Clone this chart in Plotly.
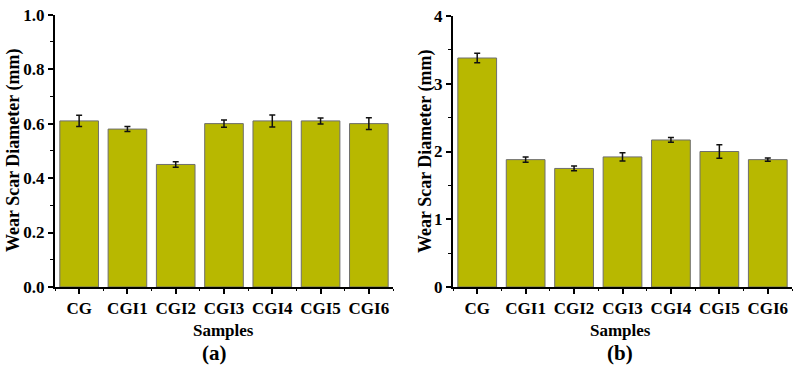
import plotly.graph_objects as go

samples = ["CG", "CGI1", "CGI2", "CGI3", "CGI4", "CGI5", "CGI6"]
wsd_a = [0.61, 0.58, 0.45, 0.60, 0.61, 0.61, 0.60]
err_a = [0.021, 0.009, 0.010, 0.013, 0.022, 0.011, 0.022]
wsd_b = [3.38, 1.88, 1.75, 1.92, 2.17, 2.00, 1.88]
err_b = [0.07, 0.04, 0.035, 0.06, 0.035, 0.10, 0.025]

FONT = "Liberation Serif"
BAR = "#b8b800"
xs = list(range(len(samples)))

fig = go.Figure()
for vals, errs, xa, ya in [(wsd_a, err_a, "x", "y"), (wsd_b, err_b, "x2", "y2")]:
    fig.add_trace(go.Bar(
        x=xs, y=vals, xaxis=xa, yaxis=ya, width=0.8,
        marker=dict(color=BAR, line=dict(color="#6e6e6e", width=1)),
        error_y=dict(type="data", array=errs, visible=True, color="#111111",
                     thickness=1.5, width=3),
        showlegend=False,
    ))

tickfont = dict(family=FONT, size=17, color="black", weight="bold")

def xaxis(domain, anchor):
    return dict(domain=domain, anchor=anchor, range=[-0.5, 6.5], automargin=False,
                tickvals=xs, ticktext=samples, showline=True, linecolor="black",
                linewidth=2, ticks="outside", ticklen=5, tickwidth=1.5,
                tickcolor="black", showgrid=False, zeroline=False,
                tickfont=tickfont,
                minor=dict(ticks="outside", ticklen=2, tickwidth=1,
                           tick0=0.5, dtick=1, tickcolor="black"))

def yaxis(domain, anchor, rng, dtick, minor_dt, fmt):
    return dict(domain=domain, anchor=anchor, range=rng, dtick=dtick, automargin=False,
                tickformat=fmt, showline=True, linecolor="black", linewidth=2,
                ticks="outside", ticklen=5, tickwidth=1.5, tickcolor="black",
                showgrid=False, zeroline=False, tickfont=tickfont,
                minor=dict(ticks="outside", ticklen=3, tickwidth=1,
                           dtick=minor_dt, tickcolor="black"))

fig.update_layout(
    width=796, height=377,
    margin=dict(l=0, r=0, t=0, b=0, autoexpand=False),
    paper_bgcolor="white", plot_bgcolor="white",
    xaxis=xaxis([55/796, 393/796], "y"),
    yaxis=yaxis([1-287/377, 1-14.7/377], "x", [0, 1.0], 0.2, 0.1, ".1f"),
    xaxis2=xaxis([453/796, 792/796], "y2"),
    yaxis2=yaxis([1-287/377, 1-16/377], "x2", [0, 4], 1, 0.5, "d"),
    bargap=0.2,
)

anns = [
    dict(x=13/796, y=1-151/377, text="Wear Scar Diameter (mm)", textangle=-90, size=18),
    dict(x=425/796, y=1-151/377, text="Wear Scar Diameter (mm)", textangle=-90, size=18),
    dict(x=223/796, y=1-330/377, text="Samples", size=17),
    dict(x=620/796, y=1-330/377, text="Samples", size=17),
    dict(x=215/796, y=1-353/377, text="(a)", size=21),
    dict(x=620/796, y=1-353/377, text="(b)", size=21),
]
for a in anns:
    sz = a.pop("size")
    fig.add_annotation(xref="paper", yref="paper", showarrow=False,
                       xanchor="center", yanchor="middle",
                       font=dict(family=FONT, size=sz, color="black", weight="bold"), **a)

fig.write_html("out.html")
